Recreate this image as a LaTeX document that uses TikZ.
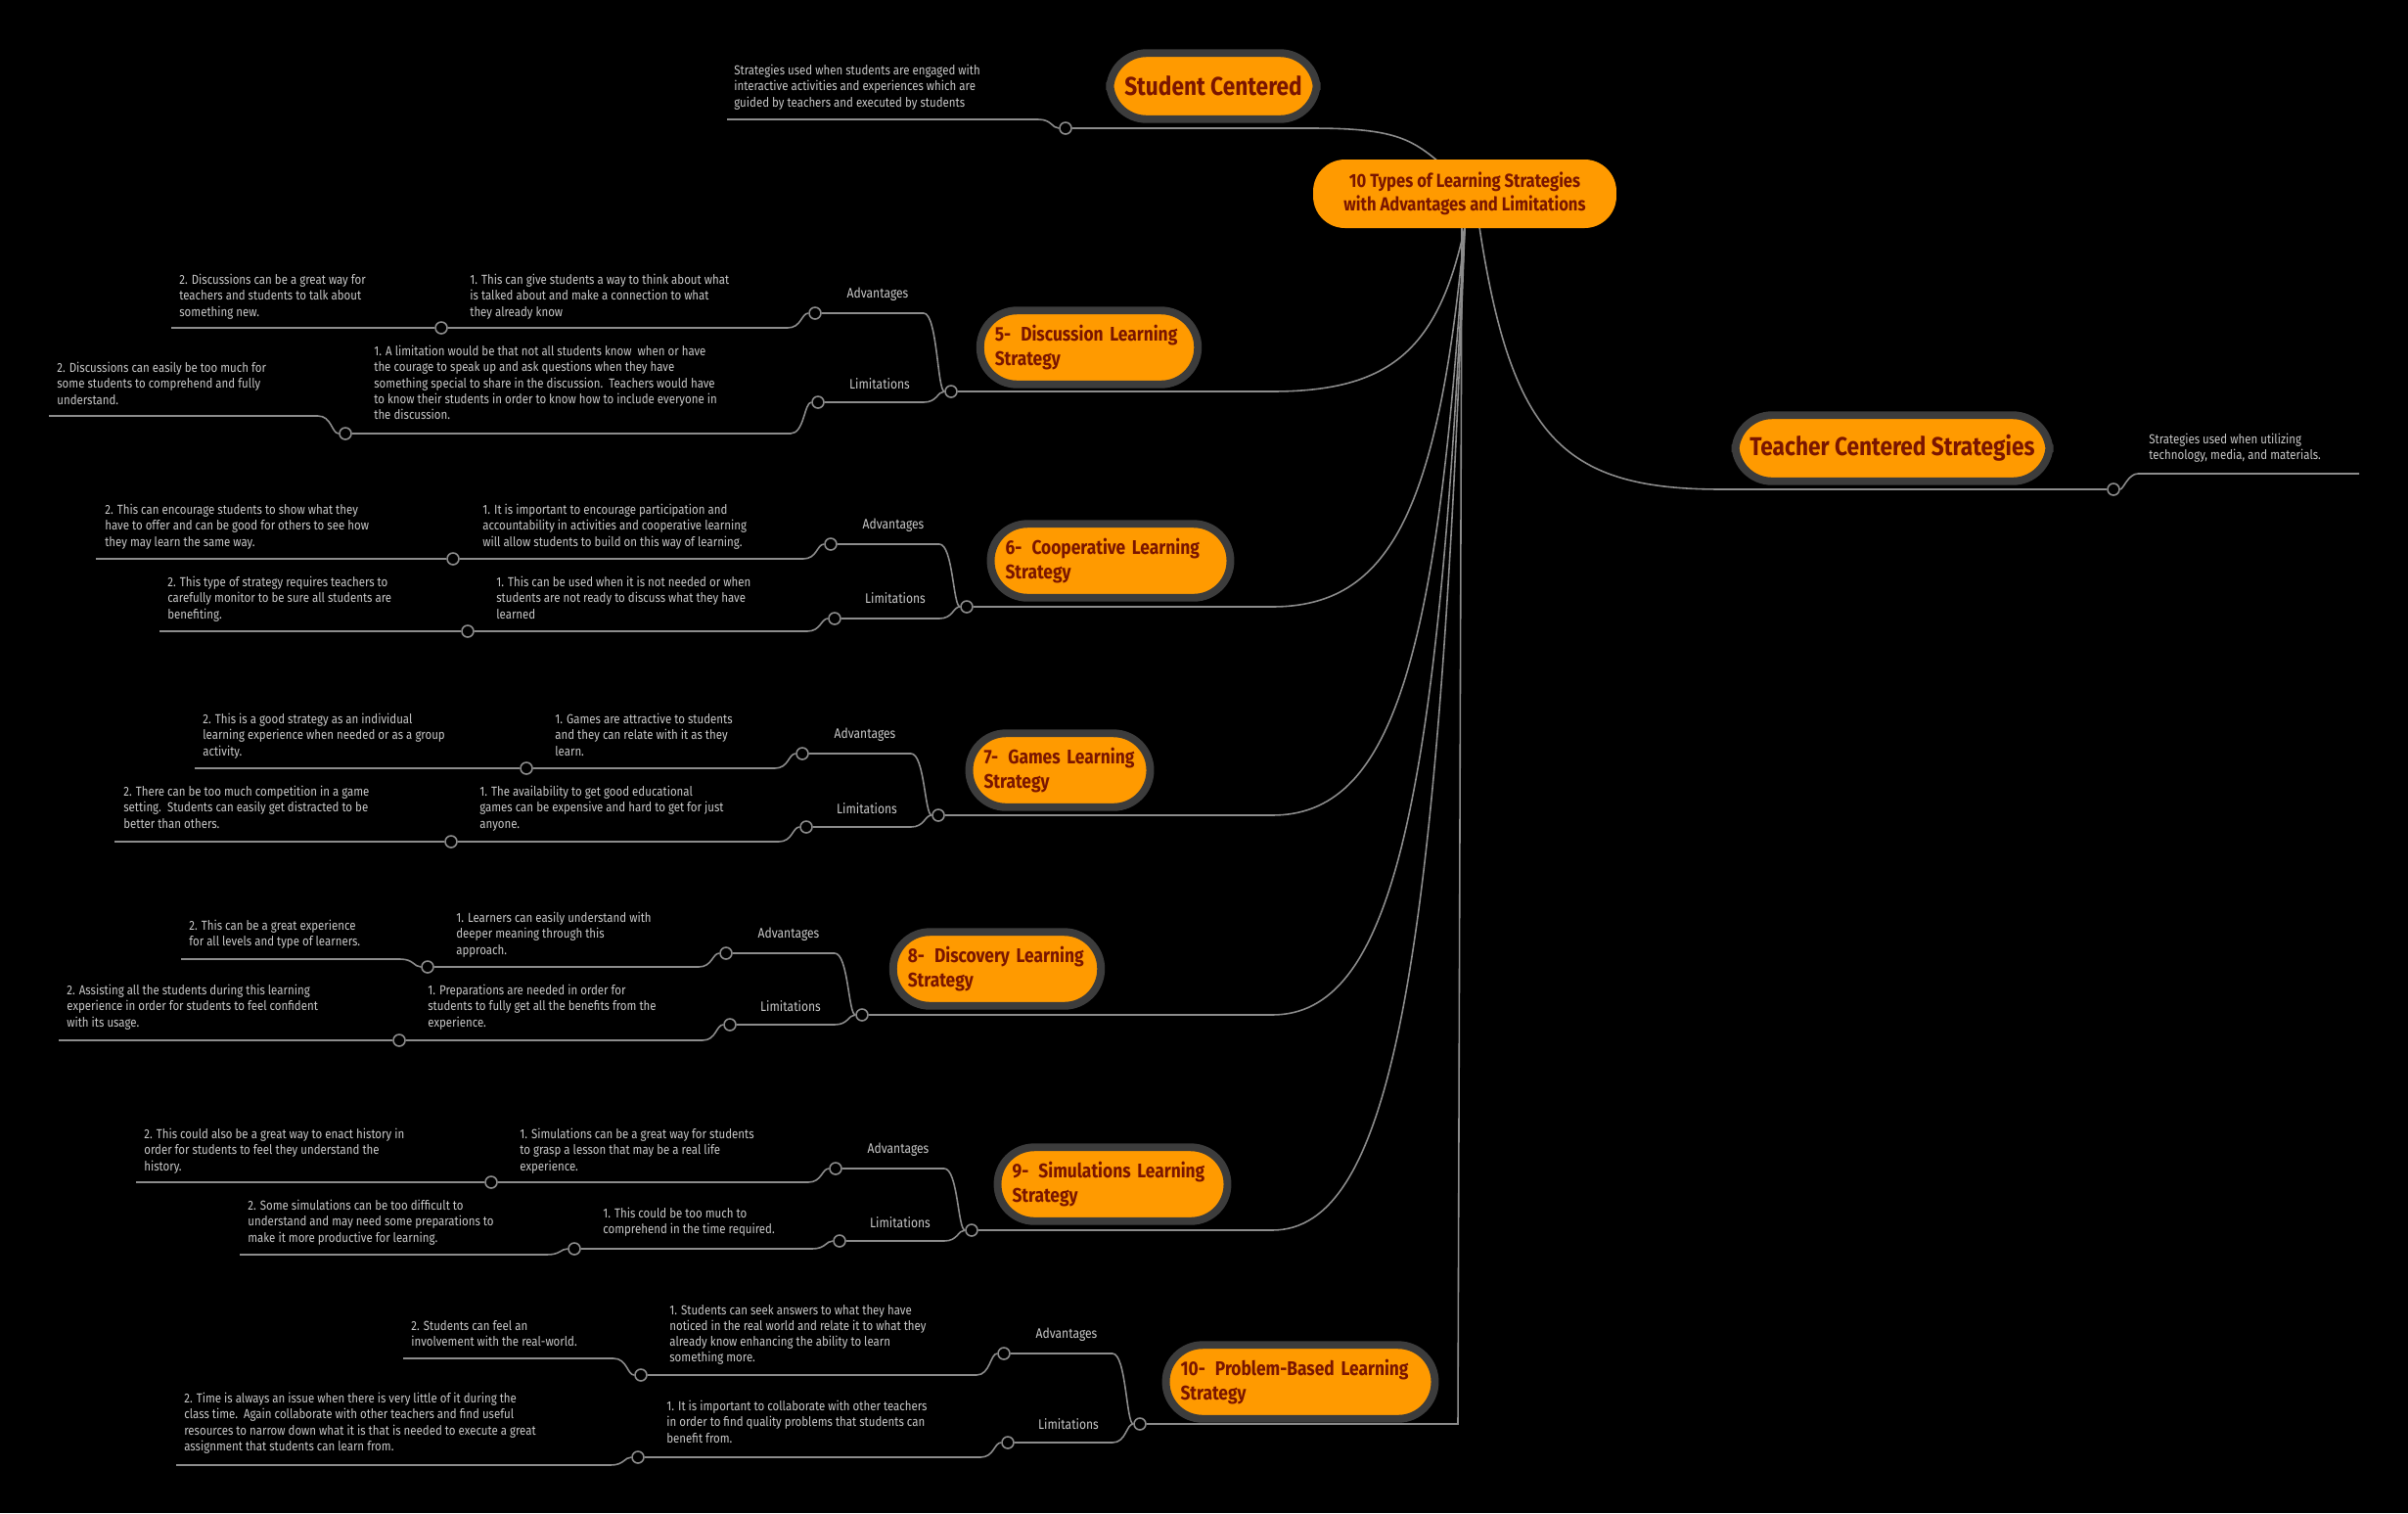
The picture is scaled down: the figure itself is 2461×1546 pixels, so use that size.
\documentclass[tikz,border=0pt]{standalone}
\usepackage{fontspec}
\setmainfont{Fira Sans}[FakeStretch=0.86]
\usetikzlibrary{calc,positioning}

\definecolor{mapbg}{HTML}{000000}
\definecolor{maporange}{HTML}{FF9A00}
\definecolor{mapedge}{HTML}{3C3C3C}
\definecolor{mapink}{HTML}{7A1500}
\definecolor{leafink}{HTML}{C8C8C8}
\definecolor{linkcol}{HTML}{8C8C8C}

\tikzset{
  conn/.style={draw=linkcol, line width=0.9pt},
  dot/.style={circle, draw=linkcol, fill=black, line width=0.9pt, minimum size=0.24cm, inner sep=0pt},
  topic/.style={rounded corners=0.75cm, fill=maporange, draw=mapedge, line width=4.5pt,
    text=mapink, font=\bfseries\fontsize{11.5}{14}\selectfont, align=left, minimum height=1.5cm, inner sep=0.3cm},
  bigtopic/.style={topic, font=\bfseries\fontsize{15}{18}\selectfont, align=center, minimum height=1.35cm},
  hub/.style={rounded corners=0.65cm, fill=maporange, text=mapink, align=center,
    font=\bfseries\fontsize{11}{13.5}\selectfont, minimum height=1.4cm, minimum width=6.2cm},
  leaf/.style={anchor=north west, inner sep=0pt, text=leafink, align=left,
    font=\fontsize{7.6}{9.2}\selectfont},
  tag/.style={text=leafink, font=\fontsize{8}{9.5}\selectfont, inner sep=0pt}
}
% curve from one dot to the line of the next
\newcommand{\tie}[2]{\draw[conn] (#1) .. controls +(-14,0) and +(14,0) .. ($(#1 |- #2)+(-28,0)$) -- (#2);}

\begin{document}
\begin{tikzpicture}[x=0.02cm, y=-0.02cm]
  \fill[mapbg] (0,0) rectangle (2461,1546);
  \useasboundingbox (0,0) rectangle (2461,1546);

  % dots
  \node[dot] (jS) at (1089,131) {};
  \node[dot] (jT) at (2160,500) {};
  \coordinate (eS) at (743,122);
  \coordinate (eT) at (2411,484);

  \node[dot] (j5) at (972,400) {};  \node[dot] (a5) at (833,320) {};  \node[dot] (l5) at (836,411) {};
  \node[dot] (c5a) at (451,335) {}; \coordinate (e5a) at (175,335);
  \node[dot] (c5l) at (353,443) {}; \coordinate (e5l) at (50,425);

  \node[dot] (j6) at (988,620) {};  \node[dot] (a6) at (849,556) {};  \node[dot] (l6) at (853,632) {};
  \node[dot] (c6a) at (463,571) {}; \coordinate (e6a) at (98,571);
  \node[dot] (c6l) at (478,645) {}; \coordinate (e6l) at (163,645);

  \node[dot] (j7) at (959,833) {};  \node[dot] (a7) at (820,770) {};  \node[dot] (l7) at (824,845) {};
  \node[dot] (c7a) at (538,785) {}; \coordinate (e7a) at (199,785);
  \node[dot] (c7l) at (461,860) {}; \coordinate (e7l) at (117,860);

  \node[dot] (j8) at (881,1037) {}; \node[dot] (a8) at (742,974) {};  \node[dot] (l8) at (746,1047) {};
  \node[dot] (c8a) at (437,988) {}; \coordinate (e8a) at (185,980);
  \node[dot] (c8l) at (408,1063) {}; \coordinate (e8l) at (60,1063);

  \node[dot] (j9) at (993,1257) {}; \node[dot] (a9) at (854,1194) {}; \node[dot] (l9) at (858,1268) {};
  \node[dot] (c9a) at (502,1208) {}; \coordinate (e9a) at (139,1208);
  \node[dot] (c9l) at (587,1276) {}; \coordinate (e9l) at (245,1282);

  \node[dot] (j10) at (1165,1455) {}; \node[dot] (a10) at (1026,1383) {}; \node[dot] (l10) at (1030,1474) {};
  \node[dot] (c10a) at (655,1405) {}; \coordinate (e10a) at (412,1388);
  \node[dot] (c10l) at (652,1489) {}; \coordinate (e10l) at (180,1497);

  % root links
  \draw[conn] (1470,165) .. controls (1440,140) and (1420,131) .. (1340,131) -- (jS);
  \draw[conn] (1512,232) .. controls (1545,450) and (1600,500) .. (1760,500) -- (jT);
  \foreach \j/\y in {j5/400, j6/620, j7/833, j8/1037, j9/1257}
    \draw[conn] (1497,232) .. controls (1470,{\y-0.25*(\y-232)}) and (1420,\y) .. (1300,\y) -- (\j);
  \draw[conn] (1494,232) -- (1490,1455) -- (j10);

  % dot to dot
  \tie{jS}{eS}
  \draw[conn] (jT) .. controls +(10,0) and +(-10,0) .. ($(jT |- eT)+(25,0)$) -- (eT);
  \foreach \n in {5,...,10} {
    \tie{j\n}{a\n} \tie{j\n}{l\n}
    \tie{a\n}{c\n a} \tie{l\n}{c\n l}
    \tie{c\n a}{e\n a} \tie{c\n l}{e\n l}
  }

  % tags
  \foreach \n/\ax/\ay/\lx/\ly in {5/897/301/899/392, 6/913/537/915/611, 7/884/751/886/826,
      8/806/955/808/1028, 9/918/1175/920/1249, 10/1090/1364/1092/1455} {
    \node[tag] (ta\n) at (\ax,\ay) {Advantages};
    \node[tag] (tl\n) at (\lx,\ly) {Limitations};
  }

  % topics
  \node[hub] (root) at (1497,198) {10 Types of Learning Strategies\\with Advantages and Limitations};
  \node[bigtopic] (student) at (1240,88) {Student Centered};
  \node[bigtopic] (teacher) at (1934,458) {Teacher Centered Strategies};
  \node[topic, text width=3.85cm] (t5) at (1113,355) {5-\enspace Discussion Learning\\Strategy};
  \node[topic, text width=4.3cm] (t6) at (1135,573) {6-\enspace Cooperative Learning\\Strategy};
  \node[topic, text width=3.1cm] (t7) at (1083,787) {7-\enspace Games Learning\\Strategy};
  \node[topic, text width=3.65cm] (t8) at (1019,990) {8-\enspace Discovery Learning\\Strategy};
  \node[topic, text width=4.1cm] (t9) at (1137,1210) {9-\enspace Simulations Learning\\Strategy};
  \node[topic, text width=4.9cm] (t10) at (1329,1412) {10-\enspace Problem-Based Learning\\Strategy};

  % leaves
  \node[leaf] (dS) at (750,66) {Strategies used when students are engaged with\\interactive activities and experiences which are\\guided by teachers and executed by students};
  \node[leaf] (dT) at (2196,443) {Strategies used when utilizing\\technology, media, and materials.};

  \node[leaf] (x5a) at (480,280) {1. This can give students a way to think about what\\is talked about and make a connection to what\\they already know};
  \node[leaf] (y5a) at (183,280) {2. Discussions can be a great way for\\teachers and students to talk about\\something new.};
  \node[leaf] (x5l) at (382,353) {1. A limitation would be that not all students know\ \ when or have\\the courage to speak up and ask questions when they have\\something special to share in the discussion.\ \ Teachers would have\\to know their students in order to know how to include everyone in\\the discussion.};
  \node[leaf] (y5l) at (58,370) {2. Discussions can easily be too much for\\some students to comprehend and fully\\understand.};

  \node[leaf] (x6a) at (493,515) {1. It is important to encourage participation and\\accountability in activities and cooperative learning\\will allow students to build on this way of learning.};
  \node[leaf] (y6a) at (107,515) {2. This can encourage students to show what they\\have to offer and can be good for others to see how\\they may learn the same way.};
  \node[leaf] (x6l) at (507,589) {1. This can be used when it is not needed or when\\students are not ready to discuss what they have\\learned};
  \node[leaf] (y6l) at (171,589) {2. This type of strategy requires teachers to\\carefully monitor to be sure all students are\\benefiting.};

  \node[leaf] (x7a) at (567,729) {1. Games are attractive to students\\and they can relate with it as they\\learn.};
  \node[leaf] (y7a) at (207,729) {2. This is a good strategy as an individual\\learning experience when needed or as a group\\activity.};
  \node[leaf] (x7l) at (490,803) {1. The availability to get good educational\\games can be expensive and hard to get for just\\anyone.};
  \node[leaf] (y7l) at (126,803) {2. There can be too much competition in a game\\setting.\ \ Students can easily get distracted to be\\better than others.};

  \node[leaf] (x8a) at (466,932) {1. Learners can easily understand with\\deeper meaning through this\\approach.};
  \node[leaf] (y8a) at (193,940) {2. This can be a great experience\\for all levels and type of learners.};
  \node[leaf] (x8l) at (437,1006) {1. Preparations are needed in order for\\students to fully get all the benefits from the\\experience.};
  \node[leaf] (y8l) at (68,1006) {2. Assisting all the students during this learning\\experience in order for students to feel confident\\with its usage.};

  \node[leaf] (x9a) at (531,1153) {1. Simulations can be a great way for students\\to grasp a lesson that may be a real life\\experience.};
  \node[leaf] (y9a) at (147,1153) {2. This could also be a great way to enact history in\\order for students to feel they understand the\\history.};
  \node[leaf] (x9l) at (616,1234) {1. This could be too much to\\comprehend in the time required.};
  \node[leaf] (y9l) at (253,1226) {2. Some simulations can be too difficult to\\understand and may need some preparations to\\make it more productive for learning.};

  \node[leaf] (x10a) at (684,1333) {1. Students can seek answers to what they have\\noticed in the real world and relate it to what they\\already know enhancing the ability to learn\\something more.};
  \node[leaf] (y10a) at (420,1349) {2. Students can feel an\\involvement with the real-world.};
  \node[leaf] (x10l) at (681,1431) {1. It is important to collaborate with other teachers\\in order to find quality problems that students can\\benefit from.};
  \node[leaf] (y10l) at (188,1423) {2. Time is always an issue when there is very little of it during the\\class time.\ \ Again collaborate with other teachers and find useful\\resources to narrow down what it is that is needed to execute a great\\assignment that students can learn from.};
\end{tikzpicture}
\end{document}
